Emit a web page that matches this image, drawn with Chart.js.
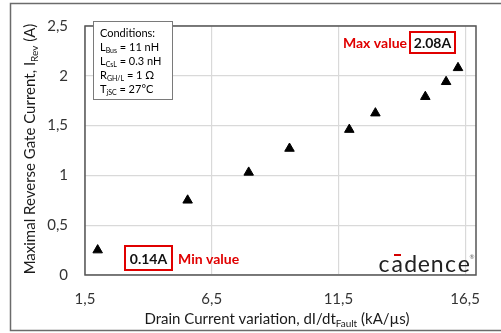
<!DOCTYPE html>
<html>
<head>
<meta charset="UTF-8">
<title>Maximal Reverse Gate Current</title>
<script src="https://cdn.jsdelivr.net/npm/chart.js"></script>
<style>
  html, body { margin: 0; padding: 0; background: #fff; }
  #wrap { width: 501px; height: 333px; }
</style>
</head>
<body>
<div id="wrap"><canvas id="chart" width="501" height="333"></canvas></div>
<script>
// values
const dIdt = [2.0, 5.55, 7.96, 9.57, 11.93, 12.96, 14.93, 15.75, 16.22];
const iRev = [0.25, 0.75, 1.03, 1.27, 1.46, 1.625, 1.79, 1.94, 2.08];
const xTicks = [1.5, 6.5, 11.5, 16.5];
const conditions = [
  ['Conditions:', ''],
  ['L', 'Bus', ' = 11 nH'],
  ['L', 'CsL', ' = 0.3 nH'],
  ['R', 'GH/L', ' = 1 \u03A9'],
  ['T', 'jSC', ' = 27\u00B0C']
];

const FONT = 'Lato, "Open Sans", sans-serif';
const comma = v => String(v).replace('.', ',');

// draws text with subscripts, parts = [[text, isSub], ...]
function partsWidth(ctx, parts, size, subSize, weight) {
  let w = 0;
  parts.forEach(p => {
    ctx.font = weight + ' ' + (p[1] ? subSize : size) + 'px ' + FONT;
    w += ctx.measureText(p[0]).width;
  });
  return w;
}
function drawParts(ctx, parts, x, y, size, subSize, weight, color) {
  ctx.fillStyle = color;
  ctx.textBaseline = 'alphabetic';
  ctx.textAlign = 'left';
  parts.forEach(p => {
    ctx.font = weight + ' ' + (p[1] ? subSize : size) + 'px ' + FONT;
    ctx.fillText(p[0], x, p[1] ? y + size * 0.22 : y);
    x += ctx.measureText(p[0]).width;
  });
}

const decor = {
  id: 'decor',
  beforeDraw(chart) {
    const ctx = chart.ctx;
    ctx.save();
    // outer frame
    ctx.strokeStyle = '#6b6b6b';
    ctx.lineWidth = 1.5;
    ctx.strokeRect(10.5, 3.5, 520, 327);
    ctx.restore();
  },
  afterDatasetsDraw(chart) {
    const ctx = chart.ctx;
    const a = chart.chartArea;
    ctx.save();
    // plot frame
    ctx.strokeStyle = '#555';
    ctx.lineWidth = 1.5;
    ctx.strokeRect(a.left, a.top, a.right - a.left, a.bottom - a.top);

    // axis titles
    const yt = [['Maximal Reverse Gate Current, I', false], ['Rev', true], [' (A)', false]];
    const yw = partsWidth(ctx, yt, 15, 10, 'normal');
    ctx.save();
    ctx.translate(35, 149);
    ctx.rotate(-Math.PI / 2);
    drawParts(ctx, yt, -yw / 2, 0, 15, 10, 'normal', '#1a1a1a');
    ctx.restore();

    const xt = [['Drain Current variation, dI/dt', false], ['Fault', true], [' (kA/\u00B5s)', false]];
    const xw = partsWidth(ctx, xt, 15, 10, 'normal');
    drawParts(ctx, xt, 277 - xw / 2, 324, 15, 10, 'normal', '#1a1a1a');

    // conditions box
    ctx.fillStyle = '#fff';
    ctx.fillRect(93, 21, 79, 78);
    ctx.strokeStyle = '#7a7a7a';
    ctx.lineWidth = 1;
    ctx.strokeRect(93.5, 21.5, 79, 78);
    conditions.forEach((c, i) => {
      const parts = c.length === 2 ? [[c[0], false]] : [[c[0], false], [c[1], true], [c[2], false]];
      drawParts(ctx, parts, 100, 37 + i * 14, 11, 7, 'normal', '#000');
    });

    // max / min annotations
    ctx.font = 'bold 14px ' + FONT;
    ctx.textBaseline = 'middle';
    ctx.fillStyle = '#e00000';
    ctx.textAlign = 'right';
    ctx.fillText('Max value', 407, 43);
    ctx.textAlign = 'left';
    ctx.fillText('Min value', 178, 259);
    ctx.strokeStyle = '#e00000';
    ctx.lineWidth = 2;
    ctx.strokeRect(410, 32, 45, 21);
    ctx.strokeRect(125, 246, 47, 24);
    ctx.fillStyle = '#111';
    ctx.textAlign = 'center';
    ctx.fillText('2.08A', 432.5, 43);
    ctx.fillText('0.14A', 148.5, 259);

    // cadence logo
    const letters = ['c', 'a', 'd', 'e', 'n', 'c', 'e'];
    ctx.font = '23px ' + FONT;
    ctx.textBaseline = 'alphabetic';
    ctx.textAlign = 'center';
    ctx.fillStyle = '#222';
    letters.forEach((l, i) => {
      ctx.fillText(l, 384 + i * 13.3, 272);
    });
    ctx.fillStyle = '#d40000';
    ctx.fillRect(394, 254, 7, 2);
    ctx.fillStyle = '#666';
    ctx.font = '6px ' + FONT;
    ctx.fillText('\u00AE', 472, 259);
    ctx.restore();
  }
};

new Chart(document.getElementById('chart'), {
  type: 'scatter',
  data: {
    datasets: [{
      data: dIdt.map((x, i) => ({ x: x, y: iRev[i] })),
      pointStyle: 'triangle',
      radius: 5.5,
      backgroundColor: '#000',
      borderColor: '#000',
      borderWidth: 1
    }]
  },
  options: {
    responsive: false,
    animation: false,
    layout: { padding: { left: 0, top: 15, right: 25, bottom: 0 } },
    plugins: { legend: { display: false }, tooltip: { enabled: false } },
    scales: {
      x: {
        type: 'linear',
        min: 1.5,
        max: 16.93,
        afterBuildTicks: s => { s.ticks = xTicks.map(v => ({ value: v })); },
        afterFit: s => { s.height = 58; },
        grid: { color: '#d9d9d9', lineWidth: 1.2, drawTicks: false },
        border: { display: false },
        ticks: {
          padding: 15,
          color: '#333',
          font: { family: FONT, size: 15 },
          callback: v => comma(v)
        }
      },
      y: {
        min: 0,
        max: 2.5,
        afterFit: s => { s.width = 85; },
        grid: { color: '#d9d9d9', lineWidth: 1.2, drawTicks: false },
        border: { display: false },
        ticks: {
          stepSize: 0.5,
          padding: 17,
          color: '#333',
          font: { family: FONT, size: 15 },
          callback: v => comma(v)
        }
      }
    }
  },
  plugins: [decor]
});
</script>
</body>
</html>
